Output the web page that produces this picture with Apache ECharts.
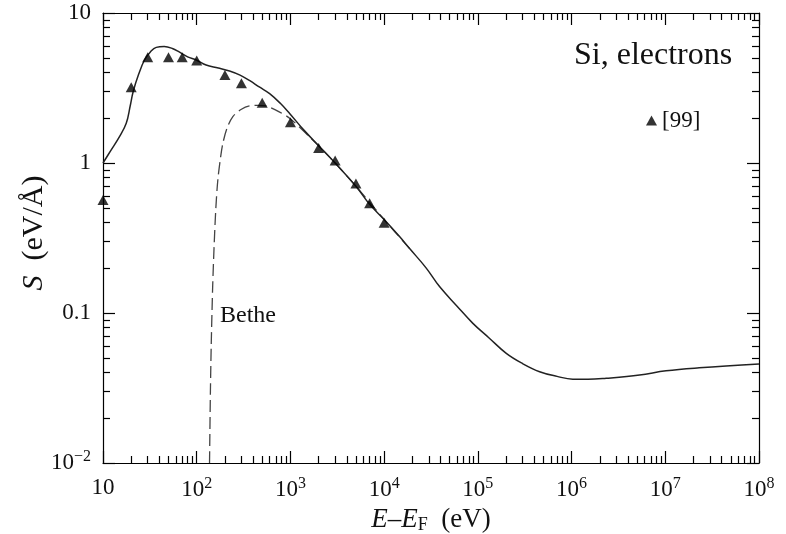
<!DOCTYPE html>
<html><head><meta charset="utf-8">
<script src="https://cdn.jsdelivr.net/npm/echarts@6/dist/echarts.min.js"></script>
<style>html,body{margin:0;padding:0;background:#fff}#c{width:786px;height:534px}</style>
</head><body><div id="c"></div>
<script>
// ---- data ----
const xMajorTicks = [10, 100, 1e3, 1e4, 1e5, 1e6, 1e7, 1e8];
const xTickLabels = ['10', '10{sup|2}', '10{sup|3}', '10{sup|4}', '10{sup|5}', '10{sup|6}', '10{sup|7}', '10{sup|8}'];
const yMajorTicks = [0.01, 0.1, 1, 10];
const yTickLabels = ['10{sup|−2}', '0.1', '1', '10'];

// total stopping power (solid curve)
const solidE = [10, 12, 15, 17.7, 19.5, 21, 24, 27.7, 32, 37, 45, 55, 65, 80, 99, 126, 170, 224, 290, 365, 470, 600, 780, 980, 1400, 2040, 3000, 5000, 7000, 10000, 14600, 18600, 28000, 39000, 60000, 88500, 1.3e5, 2.01e5, 3e5, 4.56e5, 7e5, 1.03e6, 1.5e6, 2.34e6, 5.32e6, 1.02e7, 2.3e7, 1e8];
const solidS = [1.0, 1.2, 1.5, 1.84, 2.4, 3.0, 3.9, 4.86, 5.5, 5.9, 5.97, 5.8, 5.5, 5.1, 4.86, 4.5, 4.3, 4.1, 3.85, 3.55, 3.2, 2.9, 2.5, 2.14, 1.65, 1.29, 1.0, 0.70, 0.53, 0.42, 0.323, 0.27, 0.2, 0.15, 0.111, 0.0853, 0.0687, 0.0538, 0.046, 0.0406, 0.0378, 0.0362, 0.0361, 0.0367, 0.0386, 0.0412, 0.0431, 0.0457];

// Bethe (dashed curve)
const betheE = [137, 140, 143, 148, 153, 160, 168, 180, 190, 210, 243, 300, 365, 450, 548, 700, 980, 1590, 2040, 3000, 5000, 10000, 18600];
const betheS = [0.01, 0.03, 0.063, 0.15, 0.27, 0.5, 0.77, 1.1, 1.35, 1.7, 2.04, 2.28, 2.4, 2.42, 2.4, 2.25, 1.99, 1.5, 1.28, 1.0, 0.70, 0.42, 0.27];

// experimental points [99]
const expE = [10, 20, 30, 50, 70, 100, 200, 300, 500, 1000, 2000, 3000, 5000, 7000, 10000];
const expS = [0.567, 3.2, 5.07, 5.07, 5.07, 4.82, 3.86, 3.4, 2.52, 1.87, 1.26, 1.04, 0.73, 0.54, 0.40];

// minor tick positions (2..9 per decade)
const xMinorTicks = [], yMinorTicks = [];
for (let d = 1; d < 8; d++) for (let k = 2; k <= 9; k++) xMinorTicks.push(+(k * Math.pow(10, d)).toPrecision(3));
for (let d = -2; d < 1; d++) for (let k = 2; k <= 9; k++) yMinorTicks.push(+(k * Math.pow(10, d)).toPrecision(3));

const zip = (a, b) => a.map((v, i) => [v, b[i]]);
const FONT = '"Liberation Serif", "DejaVu Serif", serif';
const INK = '#111';
const lbl = (ticks, labels) => v => {
  let best = 0, bd = Infinity;
  ticks.forEach((t, i) => { const d = Math.abs(Math.log10(t) - Math.log10(v)); if (d < bd) { bd = d; best = i; } });
  return labels[best];
};
const supRich = { sup: { fontSize: 16, fontFamily: FONT, color: INK, padding: [0, 0, 12, 0] } };

const gridRect = { left: 103, right: 27, top: 13, bottom: 71, containLabel: false, outerBoundsMode: 'none' };
const lineStyle = { color: '#000', width: 1.2 };

function xAx(grid, pos, ticks, len, labels, showLine) {
  const ax = {
    type: 'log', logBase: 10, gridIndex: grid, position: pos, min: 10, max: 1e8,
    axisLine: { show: showLine, lineStyle },
    axisTick: { show: true, inside: true, length: len, customValues: ticks, lineStyle },
    splitLine: { show: false },
    axisLabel: { show: false }
  };
  if (labels) {
    ax.axisLabel = {
      show: true, customValues: ticks, formatter: lbl(ticks, labels), fontFamily: FONT,
      fontSize: 23, color: INK, margin: 13, rich: supRich
    };
    ax.name = '{i|E}–{i|E}{sub|F}  (eV)';
    ax.nameLocation = 'middle';
    ax.nameGap = 37;
    ax.nameTextStyle = {
      fontFamily: FONT, fontSize: 27, color: INK,
      rich: {
        i: { fontFamily: FONT, fontSize: 27, fontStyle: 'italic', color: INK },
        sub: { fontFamily: FONT, fontSize: 18, color: INK, padding: [10, 0, 0, 0] }
      }
    };
  }
  return ax;
}
function yAx(grid, pos, ticks, len, labels, showLine) {
  const ax = {
    type: 'log', logBase: 10, gridIndex: grid, position: pos, min: 0.01, max: 10,
    axisLine: { show: showLine, lineStyle },
    axisTick: { show: true, inside: true, length: len, customValues: ticks, lineStyle },
    splitLine: { show: false },
    axisLabel: { show: false }
  };
  if (labels) {
    ax.axisLabel = {
      show: true, customValues: ticks, formatter: lbl(ticks, labels), fontFamily: FONT,
      fontSize: 23, color: INK, margin: 12, rich: supRich
    };
    ax.name = '{i|S}  (eV/Å)';
    ax.nameLocation = 'middle';
    ax.nameRotate = 90;
    ax.nameGap = 54;
    ax.nameMoveOverlap = false;
    ax.nameTextStyle = {
      fontFamily: FONT, fontSize: 30, color: INK, padding: [0, 0, 0, 10],
      rich: { i: { fontFamily: FONT, fontSize: 30, fontStyle: 'italic', color: INK } }
    };
  }
  return ax;
}

const chart = echarts.init(document.getElementById('c'), null, { renderer: 'canvas' });
chart.setOption({
  animation: false,
  backgroundColor: '#fff',
  grid: [gridRect, gridRect, gridRect, gridRect].map(g => Object.assign({}, g)),
  xAxis: [
    xAx(0, 'bottom', xMajorTicks, 12, xTickLabels, true),
    xAx(1, 'top', xMajorTicks, 12, null, true),
    xAx(2, 'bottom', xMinorTicks, 7, null, false),
    xAx(3, 'top', xMinorTicks, 7, null, false)
  ],
  yAxis: [
    yAx(0, 'left', yMajorTicks, 12, yTickLabels, true),
    yAx(1, 'right', yMajorTicks, 12, null, true),
    yAx(2, 'left', yMinorTicks, 7, null, false),
    yAx(3, 'right', yMinorTicks, 7, null, false)
  ],
  legend: {
    data: ['[99]'], left: 641, top: 104, icon: 'triangle', itemWidth: 11, itemHeight: 10,
    textStyle: { fontFamily: FONT, fontSize: 23, color: INK }, itemGap: 5
  },
  graphic: [
    { type: 'text', left: 574, top: 40, style: { text: 'Si, electrons', font: '32px ' + FONT, fill: INK } },
    { type: 'text', left: 220, top: 304, style: { text: 'Bethe', font: '24px ' + FONT, fill: INK } }
  ],
  series: [
    {
      name: 'total', type: 'line', xAxisIndex: 0, yAxisIndex: 0, data: zip(solidE, solidS),
      showSymbol: false, smooth: 0.4, lineStyle: { color: '#222', width: 1.5 }, z: 3
    },
    {
      name: 'Bethe', type: 'line', xAxisIndex: 0, yAxisIndex: 0, data: zip(betheE, betheS),
      showSymbol: false, smooth: 0.3, lineStyle: { color: '#444', width: 1.3, type: [12, 5] }, z: 2
    },
    {
      name: '[99]', type: 'scatter', xAxisIndex: 0, yAxisIndex: 0, data: zip(expE, expS),
      symbol: 'triangle', symbolSize: [11, 10], itemStyle: { color: '#000' }, z: 4
    }
  ]
});
</script></body></html>
